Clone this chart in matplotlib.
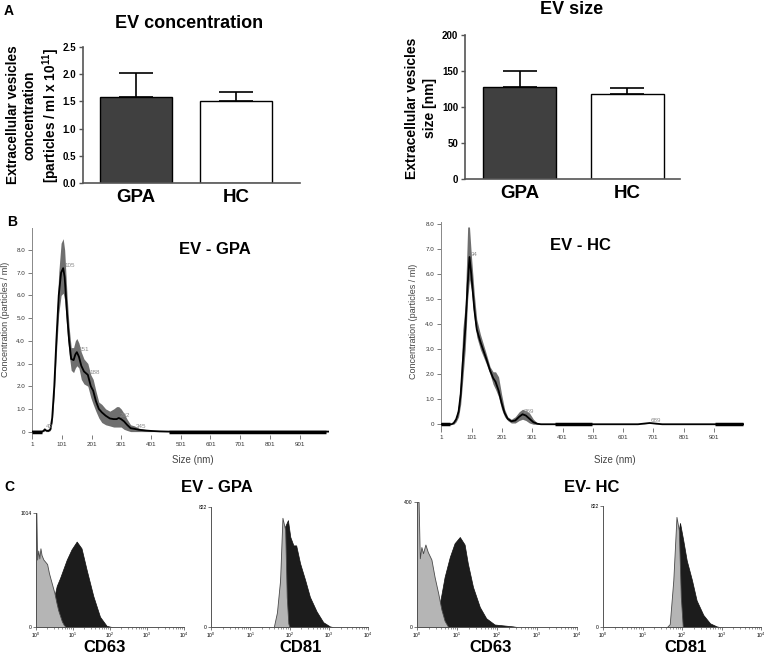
import matplotlib
matplotlib.use("Agg")
import matplotlib.pyplot as plt
import numpy as np
from matplotlib.ticker import LogLocator, NullFormatter

plt.rcParams['font.family'] = ['Liberation Sans', 'DejaVu Sans']
plt.rcParams['mathtext.fontset'] = 'custom'
plt.rcParams['mathtext.rm'] = 'Liberation Sans'
plt.rcParams['mathtext.bf'] = 'Liberation Sans:bold'

# ---- panel A: bar data ----
groups = ['GPA', 'HC']
conc_mean = [1.58, 1.50]
conc_err = [0.44, 0.17]
size_mean = [128, 118]
size_err = [22, 8]

# ---- panel B: NTA size distributions (size nm -> concentration) ----
gpa_size = [1, 35, 40, 43, 47, 55, 62, 68, 75, 82, 90, 98, 105, 110, 118, 125, 132, 140, 146,
            151, 158, 166, 175, 188, 198, 206, 215, 225, 235, 248, 262, 275, 285, 292, 300,
            310, 320, 332, 345, 360, 380, 400, 430, 460, 1000]
gpa_mean = [0, 0, 0.05, 0.1, 0.05, 0.03, 0.1, 0.6, 2.0, 4.0, 6.0, 7.0, 7.2, 6.8, 5.2, 4.0, 3.2,
            3.15, 3.4, 3.5, 3.3, 2.9, 2.65, 2.5, 2.0, 1.8, 1.35, 1.0, 0.85, 0.7, 0.58, 0.55,
            0.55, 0.6, 0.55, 0.45, 0.3, 0.15, 0.12, 0.08, 0.05, 0.03, 0.01, 0, 0]
gpa_upper = [0, 0, 0.1, 0.15, 0.08, 0.05, 0.15, 0.8, 2.4, 4.6, 7.0, 8.3, 8.5, 8.0, 6.0, 4.6,
             3.7, 3.7, 4.0, 4.1, 3.9, 3.5, 3.2, 3.0, 2.5, 2.3, 1.8, 1.3, 1.2, 1.0, 0.9, 1.0,
             1.1, 1.1, 1.0, 0.8, 0.55, 0.3, 0.25, 0.15, 0.1, 0.05, 0.02, 0, 0]
gpa_lower = [0, 0, 0, 0.05, 0, 0, 0.05, 0.4, 1.6, 3.4, 5.2, 6.0, 6.1, 5.8, 4.4, 3.4, 2.7, 2.6,
             2.8, 2.9, 2.8, 2.3, 2.1, 2.0, 1.5, 1.2, 0.9, 0.6, 0.4, 0.3, 0.25, 0.2, 0.2, 0.2,
             0.2, 0.1, 0.05, 0, 0, 0, 0, 0, 0, 0, 0]
gpa_peaks = [43, 105, 151, 188, 292, 345]
gpa_peak_vals = [0.1, 7.2, 3.5, 2.5, 0.6, 0.12]
gpa_flat = [(1, 35), (460, 990)]

hc_size = [1, 35, 42, 50, 58, 65, 72, 80, 88, 94, 100, 110, 118, 130, 140, 150, 162, 172, 180,
           190, 200, 210, 220, 232, 245, 258, 269, 280, 292, 305, 318, 330, 650, 689, 730, 1000]
hc_mean = [0, 0, 0.05, 0.2, 0.5, 1.2, 2.5, 3.8, 5.6, 6.7, 6.0, 4.6, 3.8, 3.3, 2.95, 2.6, 2.15,
           1.85, 1.7, 1.35, 0.85, 0.45, 0.22, 0.12, 0.15, 0.3, 0.4, 0.35, 0.22, 0.08, 0.02, 0,
           0, 0.05, 0, 0]
hc_upper = [0, 0, 0.1, 0.3, 0.8, 1.8, 3.8, 4.8, 7.9, 7.9, 6.8, 5.2, 4.2, 3.6, 3.2, 2.8, 2.3,
            2.1, 2.1, 1.9, 1.2, 0.6, 0.3, 0.2, 0.3, 0.5, 0.6, 0.55, 0.45, 0.2, 0.05, 0, 0, 0.06,
            0, 0]
hc_lower = [0, 0, 0, 0.1, 0.3, 0.8, 1.8, 3.0, 5.0, 5.8, 5.4, 4.2, 3.5, 3.0, 2.7, 2.4, 2.0,
            1.6, 1.4, 1.1, 0.6, 0.3, 0.15, 0.05, 0.05, 0.15, 0.2, 0.15, 0.05, 0, 0, 0, 0, 0.04,
            0, 0]
hc_peaks = [94, 269, 689]
hc_peak_vals = [6.7, 0.4, 0.05]
hc_flat = [(1, 30), (376, 497), (903, 997)]
size_ticks = [1, 101, 201, 301, 401, 501, 601, 701, 801, 901]

# ---- panel C: flow cytometry histograms (log10 fluorescence -> counts) ----
cd63_gpa_iso_x = [0, 0.01, 0.03, 0.06, 0.09, 0.12, 0.15, 0.2, 0.25, 0.3, 0.35, 0.4, 0.45, 0.5,
                  0.55, 0.6, 0.65, 0.7, 0.75, 0.8]
cd63_gpa_iso_y = [1014, 1014, 600, 680, 610, 700, 640, 600, 580, 560, 480, 420, 360, 300, 220,
                  150, 100, 50, 20, 0]
cd63_gpa_x = [0.35, 0.45, 0.56, 0.65, 0.83, 0.96, 1.10, 1.23, 1.37, 1.55, 1.73, 1.91, 2.05]
cd63_gpa_y = [0, 200, 365, 436, 598, 690, 760, 700, 507, 274, 91, 10, 0]

cd81_gpa_iso_x = [1.6, 1.68, 1.76, 1.82, 1.89, 1.93, 1.97, 2.0]
cd81_gpa_iso_y = [0, 100, 320, 748, 666, 205, 25, 0]
cd81_gpa_x = [1.7, 1.85, 1.96, 2.02, 2.1, 2.17, 2.27, 2.4, 2.52, 2.69, 2.86, 3.03, 3.1]
cd81_gpa_y = [0, 666, 732, 617, 559, 559, 436, 321, 206, 107, 33, 4, 0]

cd63_hc_iso_x = [0, 0.04, 0.07, 0.11, 0.15, 0.21, 0.27, 0.36, 0.44, 0.53, 0.61, 0.69, 0.78]
cd63_hc_iso_y = [400, 400, 220, 256, 236, 264, 240, 216, 160, 108, 56, 20, 0]
cd63_hc_x = [0.45, 0.6, 0.69, 0.82, 0.94, 1.07, 1.19, 1.27, 1.4, 1.57, 1.73, 1.94, 2.4, 2.5]
cd63_hc_y = [0, 96, 160, 224, 268, 288, 264, 204, 128, 64, 28, 8, 2, 0]

cd81_hc_iso_x = [1.62, 1.69, 1.78, 1.86, 1.92, 1.97, 2.02]
cd81_hc_iso_y = [0, 20, 320, 748, 658, 205, 0]
cd81_hc_x = [1.75, 1.88, 1.95, 2.03, 2.12, 2.25, 2.37, 2.54, 2.71, 2.88, 2.95]
cd81_hc_y = [0, 600, 707, 592, 452, 321, 181, 82, 25, 4, 0]

W, H = 766, 655
fig = plt.figure(figsize=(W / 100, H / 100), dpi=100)


def px_axes(x0, y0, x1, y1):
    return fig.add_axes([x0 / W, 1 - y1 / H, (x1 - x0) / W, (y1 - y0) / H])


def px_text(x, y, s, **kw):
    fig.text(x / W, 1 - y / H, s, ha='center', va='center', **kw)


# ---------------- A ----------------
def bar_panel(ax, means, errs, ymax, ystep, xl, xr, width, fmt):
    ax.bar([0, 1], means, width=width, color=['#404040', 'white'],
           edgecolor='black', linewidth=1.0, zorder=2)
    ax.errorbar([0, 1], means, yerr=[[0, 0], errs], fmt='none', ecolor='black',
                elinewidth=1.2, capsize=12, capthick=1.2, zorder=1)
    ax.set_xlim(xl, xr)
    ax.set_ylim(0, ymax)
    ticks = np.arange(0, ymax + ystep / 2, ystep)
    ax.set_yticks(ticks)
    ax.set_yticklabels([fmt % t for t in ticks], fontweight='bold')
    ax.set_xticks([0, 1])
    ax.set_xticklabels(groups, fontsize=13.5, fontweight='bold')
    ax.tick_params(axis='x', length=0, pad=4)
    ax.tick_params(axis='y', length=3, width=1, color='#555555', labelsize=7, pad=2)
    for s in ['top', 'right']:
        ax.spines[s].set_visible(False)
    for s in ['left', 'bottom']:
        ax.spines[s].set_color('#555555')
        ax.spines[s].set_linewidth(1.2)


axA1 = px_axes(83, 47, 300, 183)
bar_panel(axA1, conc_mean, conc_err, 2.5, 0.5, -0.53, 1.64, 0.72, '%.1f')
axA2 = px_axes(465, 35, 680, 179)
bar_panel(axA2, size_mean, size_err, 200, 50, -0.51, 1.49, 0.68, '%d')

px_text(9, 11, 'A', fontsize=10, fontweight='bold')
px_text(189, 23, 'EV concentration', fontsize=13, fontweight='bold')
px_text(572, 10, 'EV size', fontsize=13, fontweight='bold')
px_text(34, 115, 'Extracellular vesicles\nconcentration\n[particles / ml x 10$^{\\mathbf{11}}$]',
        fontsize=9.8, fontweight='bold', rotation=90, linespacing=1.25, multialignment='center')
px_text(421, 108, 'Extracellular vesicles\nsize [nm]', fontsize=10, fontweight='bold',
        rotation=90, linespacing=1.3, multialignment='center')


# ---------------- B ----------------
def nta_panel(ax, x, m, up, lo, peaks, pvals, flats, ytop):
    ax.fill_between(x, lo, up, color='#6f6f6f', lw=0, zorder=1)
    ax.plot(x, m, color='black', lw=1.3, zorder=3)
    for a, b in flats:
        ax.plot([a, b], [0, 0], color='black', lw=2.5, zorder=3, solid_capstyle='butt')
    for p, v in zip(peaks, pvals):
        ax.text(p + 4, v, str(p), fontsize=4.5, color='#8a8a8a', va='bottom', ha='left', zorder=4)
    ax.set_xlim(0, 1000)
    ax.set_ylim(-0.15, ytop)
    ax.set_xticks(size_ticks)
    ax.set_xticklabels([str(t) for t in size_ticks])
    ax.set_yticks(np.arange(0, 8.5, 1))
    ax.set_yticklabels(['0'] + ['%.1f' % v for v in np.arange(1, 8.5, 1)])
    ax.tick_params(labelsize=4.5, length=3, width=0.6, color='#666666', labelcolor='#333333', pad=2)
    for s in ['top', 'right']:
        ax.spines[s].set_visible(False)
    ax.spines['left'].set_color('#888888')
    ax.spines['left'].set_linewidth(0.7)
    ax.spines['bottom'].set_visible(False)


axB1 = px_axes(32, 228, 329, 435)
nta_panel(axB1, gpa_size, gpa_mean, gpa_upper, gpa_lower, gpa_peaks, gpa_peak_vals, gpa_flat, 8.97)
axB2 = px_axes(441, 222, 744, 428)
nta_panel(axB2, hc_size, hc_mean, hc_upper, hc_lower, hc_peaks, hc_peak_vals, hc_flat, 8.1)

px_text(12, 222, 'B', fontsize=10, fontweight='bold')
px_text(215, 250, 'EV - GPA', fontsize=12, fontweight='bold')
px_text(580, 245, 'EV - HC', fontsize=12, fontweight='bold')
px_text(6, 319, 'Concentration (particles / ml)', fontsize=6.5, color='#444444', rotation=90)
px_text(414, 321, 'Concentration (particles / ml)', fontsize=6.5, color='#444444', rotation=90)
px_text(193, 460, 'Size (nm)', fontsize=7, color='#444444')
px_text(615, 460, 'Size (nm)', fontsize=7, color='#444444')


# ---------------- C ----------------
def flow_panel(ax, ix, iy, sx, sy, ymax):
    ax.fill_between(10 ** np.array(sx), sy, 0, color='#1c1c1c', lw=0.5, edgecolor='#111111', zorder=2)
    ax.fill_between(10 ** np.array(ix), iy, 0, color='#b5b5b5', lw=0.6, edgecolor='#4a4a4a', zorder=3)
    ax.set_xscale('log')
    ax.set_xlim(1, 1e4)
    ax.set_ylim(0, ymax)
    ax.set_xticks([1, 10, 100, 1000, 10000])
    ax.set_xticklabels(['$10^0$', '$10^1$', '$10^2$', '$10^3$', '$10^4$'])
    ax.xaxis.set_minor_locator(LogLocator(base=10, subs=np.arange(2, 10), numticks=20))
    ax.xaxis.set_minor_formatter(NullFormatter())
    ax.set_yticks([0, ymax])
    ax.set_yticklabels(['0', str(ymax)])
    ax.tick_params(which='major', labelsize=3.6, length=2.5, width=0.5, color='#444444', pad=0.5)
    ax.tick_params(which='minor', length=1.5, width=0.4, color='#444444')
    for s in ['top', 'right']:
        ax.spines[s].set_visible(False)
    for s in ['left', 'bottom']:
        ax.spines[s].set_color('#555555')
        ax.spines[s].set_linewidth(0.7)


axC1 = px_axes(36, 513, 184, 627)
flow_panel(axC1, cd63_gpa_iso_x, cd63_gpa_iso_y, cd63_gpa_x, cd63_gpa_y, 1014)
axC2 = px_axes(211, 507, 368, 627)
flow_panel(axC2, cd81_gpa_iso_x, cd81_gpa_iso_y, cd81_gpa_x, cd81_gpa_y, 822)
axC3 = px_axes(417, 502, 577, 627)
flow_panel(axC3, cd63_hc_iso_x, cd63_hc_iso_y, cd63_hc_x, cd63_hc_y, 400)
axC4 = px_axes(603, 506, 761, 627)
flow_panel(axC4, cd81_hc_iso_x, cd81_hc_iso_y, cd81_hc_x, cd81_hc_y, 822)

px_text(9, 487, 'C', fontsize=10, fontweight='bold')
px_text(217, 487, 'EV - GPA', fontsize=12, fontweight='bold')
px_text(592, 487, 'EV- HC', fontsize=12, fontweight='bold')
px_text(105, 647, 'CD63', fontsize=12, fontweight='bold')
px_text(301, 647, 'CD81', fontsize=12, fontweight='bold')
px_text(491, 647, 'CD63', fontsize=12, fontweight='bold')
px_text(686, 647, 'CD81', fontsize=12, fontweight='bold')

fig.savefig('out.png', dpi=100)
